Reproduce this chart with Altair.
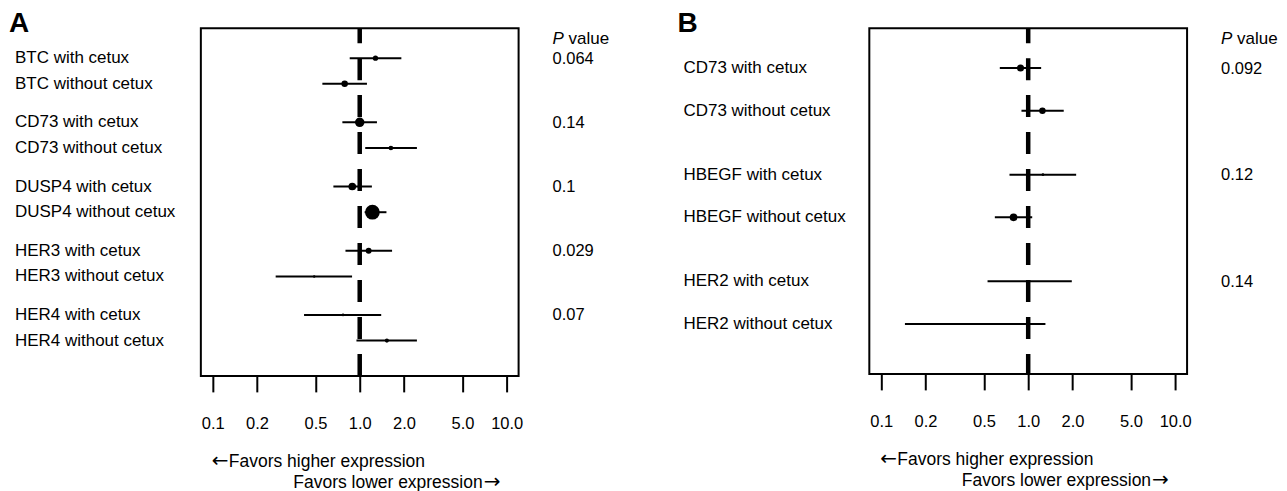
import altair as alt
import pandas as pd

FONT = "Liberation Sans"
ARROW_FONT = "DejaVu Sans"

# ---------------- Panel A data ----------------
A_genes = ["BTC", "CD73", "DUSP4", "HER3", "HER4"]
A_est = [1.28, 0.79, 1.00, 1.63, 0.89, 1.22, 1.15, 0.49, 0.77, 1.53]
A_lo = [0.855, 0.557, 0.762, 1.09, 0.662, 1.08, 0.80, 0.268, 0.418, 0.95]
A_hi = [1.92, 1.12, 1.31, 2.45, 1.21, 1.52, 1.66, 0.887, 1.40, 2.45]
A_weight = [28, 42, 90, 22, 59, 219, 35, 6, 7, 17]
A_pvalues = ["0.064", "0.14", "0.1", "0.029", "0.07"]

# ---------------- Panel B data ----------------
B_genes = ["CD73", "HBEGF", "HER2"]
B_est = [0.887, 1.25, 1.26, 0.795, 1.00, 0.439]
B_lo = [0.641, 0.90, 0.746, 0.593, 0.529, 0.145]
B_hi = [1.225, 1.745, 2.12, 1.065, 1.98, 1.31]
B_weight = [50, 42, 7, 59, 4, 3]
B_pvalues = ["0.092", "0.12", "0.14"]

x_ticks = [0.1, 0.2, 0.5, 1.0, 2.0, 5.0, 10.0]
suffixes = ["with cetux", "without cetux"]
note_left = "Favors higher expression"
note_right = "Favors lower expression"

W = 318


def txt(t, **kw):
    return alt.Chart(pd.DataFrame({"t": [t]})).mark_text(color="black", **kw)


def panel(genes, est, lo, hi, weight, pvals, letter, ydom, H):
    rows = []
    for i, g in enumerate(genes):
        for w, s in enumerate(suffixes):
            k = 2 * i + w
            rows.append(dict(label=f"{g} {s}", pos=i + 0.4 * w,
                             est=est[k], lo=lo[k], hi=hi[k], weight=weight[k]))
    df = pd.DataFrame(rows)
    pdf = pd.DataFrame({"p": pvals, "pos": [float(i) for i in range(len(genes))]})

    xs = alt.Scale(type="log", domain=[0.083, 12.05], nice=False)
    ys = alt.Scale(domain=ydom, reverse=True, nice=False, zero=False)
    xaxis = alt.Axis(values=x_ticks, labelExpr="format(datum.value, '.1f')",
                     title=None, grid=False, domain=False, tickSize=16,
                     tickWidth=2, tickColor="black", labelColor="black",
                     labelFont=FONT, labelFontSize=16.5, labelPadding=37,
                     labelBaseline="alphabetic", labelFlush=False)
    yenc = alt.Y("pos:Q", scale=ys, axis=None)

    ref = alt.Chart(pd.DataFrame({"ref": [1.0]})).mark_rule(
        color="black", strokeWidth=4.5, strokeDash=[22, 15], strokeDashOffset=7
    ).encode(x=alt.X("ref:Q", scale=xs, axis=xaxis))

    base = alt.Chart(df)
    bars = base.mark_rule(color="black", strokeWidth=2).encode(
        x=alt.X("lo:Q", scale=xs, axis=xaxis), x2="hi:Q", y=yenc)
    pts = base.mark_circle(color="black", opacity=1).encode(
        x=alt.X("est:Q", scale=xs, axis=xaxis), y=yenc,
        size=alt.Size("weight:Q", scale=None))
    labels = base.mark_text(align="left", baseline="alphabetic", font=FONT,
                            fontSize=17, dy=5, color="black").encode(
        x=alt.value(-186), y=yenc, text="label:N")
    pv = alt.Chart(pdf).mark_text(align="left", baseline="alphabetic", font=FONT,
                                  fontSize=16.5, dy=5.5, color="black").encode(
        x=alt.value(W + 34), y=yenc, text="p:N")
    hP = txt("P", align="left", baseline="alphabetic", font=FONT, fontSize=17,
             fontStyle="italic").encode(x=alt.value(W + 34), y=alt.value(15.4), text="t:N")
    hV = txt("value", align="left", baseline="alphabetic", font=FONT,
             fontSize=17).encode(x=alt.value(W + 50), y=alt.value(15.4), text="t:N")
    let = txt(letter, align="left", baseline="alphabetic", font=FONT, fontSize=28,
              fontWeight="bold").encode(x=alt.value(-192), y=alt.value(4.3), text="t:N")
    a1 = txt("\u2190", align="left", baseline="alphabetic", font=ARROW_FONT,
             fontSize=20).encode(x=alt.value(11), y=alt.value(H + 91), text="t:N")
    n1 = txt(note_left, align="left", baseline="alphabetic", font=FONT,
             fontSize=17.5).encode(x=alt.value(28), y=alt.value(H + 91), text="t:N")
    n2 = txt(note_right, align="right", baseline="alphabetic", font=FONT,
             fontSize=17.5).encode(x=alt.value(282), y=alt.value(H + 112), text="t:N")
    a2 = txt("\u2192", align="left", baseline="alphabetic", font=ARROW_FONT,
             fontSize=20).encode(x=alt.value(283), y=alt.value(H + 112), text="t:N")

    return alt.layer(ref, bars, pts, labels, pv, hP, hV, let, a1, n1, n2, a2).properties(
        width=W, height=H)


pA = panel(A_genes, A_est, A_lo, A_hi, A_weight, A_pvalues, "A",
           [-0.467, 4.95], 348)
pB = panel(B_genes, B_est, B_lo, B_hi, B_weight, B_pvalues, "B",
           [-0.374, 2.869], 346)

chart = alt.hconcat(pA, pB, spacing=66).properties(
    padding={"left": 0, "top": 1, "right": 0, "bottom": 0},
    background="white"
).configure_view(stroke="black", strokeWidth=2)

chart.save("out.html", embed_options={"renderer": "svg", "actions": False})
